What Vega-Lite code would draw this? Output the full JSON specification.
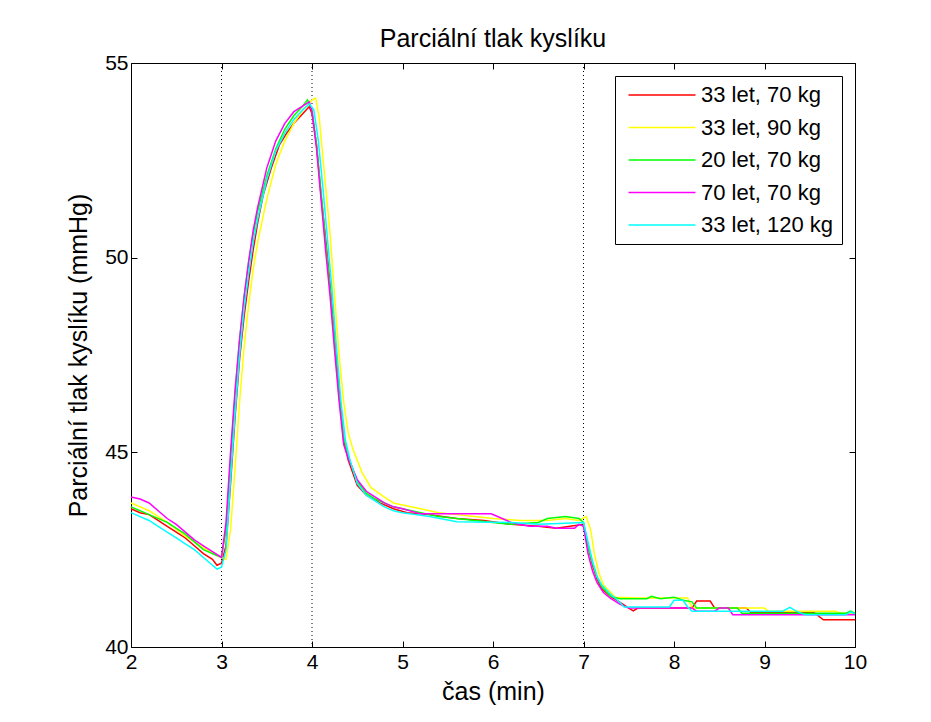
{
  "$schema": "https://vega.github.io/schema/vega-lite/v6.json",
  "width": 724,
  "height": 584,
  "autosize": {"type": "none"},
  "padding": {"left": 131, "top": 63, "right": 76, "bottom": 75},
  "background": "white",
  "config": {
    "font": "Liberation Sans",
    "view": {"stroke": "black", "strokeWidth": 1},
    "axis": {
      "domain": false, "grid": false, "tickColor": "black", "tickWidth": 1, "tickSize": -6,
      "labelColor": "black", "labelFont": "Liberation Sans", "labelFontSize": 21,
      "titleFont": "Liberation Sans", "titleFontSize": 25, "titleFontWeight": "normal", "titleColor": "black"
    },
    "legend": {
      "labelFont": "Liberation Sans", "labelFontSize": 22, "labelColor": "black"
    }
  },
  "title": {"text": "Parciální tlak kyslíku", "fontSize": 25, "fontWeight": "normal", "color": "black", "font": "Liberation Sans", "anchor": "middle", "baseline": "alphabetic", "offset": -20},
  "datasets": {
    "vlines": [{"t": 3}, {"t": 4}, {"t": 7}]
  },
  "data": {"values": [
    {"s":"33 let, 70 kg","t":2.0,"v":43.55},{"s":"33 let, 70 kg","t":2.1,"v":43.45},{"s":"33 let, 70 kg","t":2.2,"v":43.4},{"s":"33 let, 70 kg","t":2.3,"v":43.25},{"s":"33 let, 70 kg","t":2.4,"v":43.1},{"s":"33 let, 70 kg","t":2.5,"v":42.95},{"s":"33 let, 70 kg","t":2.6,"v":42.8},{"s":"33 let, 70 kg","t":2.7,"v":42.6},{"s":"33 let, 70 kg","t":2.8,"v":42.4},{"s":"33 let, 70 kg","t":2.9,"v":42.25},{"s":"33 let, 70 kg","t":2.95,"v":42.1},{"s":"33 let, 70 kg","t":3.0,"v":42.15},{"s":"33 let, 70 kg","t":3.05,"v":42.6},{"s":"33 let, 70 kg","t":3.1,"v":44.2},{"s":"33 let, 70 kg","t":3.15,"v":45.9},{"s":"33 let, 70 kg","t":3.2,"v":47.4},{"s":"33 let, 70 kg","t":3.25,"v":48.5},{"s":"33 let, 70 kg","t":3.3,"v":49.4},{"s":"33 let, 70 kg","t":3.35,"v":50.2},{"s":"33 let, 70 kg","t":3.4,"v":50.9},{"s":"33 let, 70 kg","t":3.46,"v":51.6},{"s":"33 let, 70 kg","t":3.55,"v":52.3},{"s":"33 let, 70 kg","t":3.64,"v":52.9},{"s":"33 let, 70 kg","t":3.72,"v":53.2},{"s":"33 let, 70 kg","t":3.8,"v":53.45},{"s":"33 let, 70 kg","t":3.9,"v":53.7},{"s":"33 let, 70 kg","t":3.97,"v":53.88},{"s":"33 let, 70 kg","t":4.0,"v":53.7},{"s":"33 let, 70 kg","t":4.05,"v":52.9},{"s":"33 let, 70 kg","t":4.1,"v":51.6},{"s":"33 let, 70 kg","t":4.15,"v":50.5},{"s":"33 let, 70 kg","t":4.2,"v":49.3},{"s":"33 let, 70 kg","t":4.25,"v":47.9},{"s":"33 let, 70 kg","t":4.3,"v":46.6},{"s":"33 let, 70 kg","t":4.35,"v":45.3},{"s":"33 let, 70 kg","t":4.4,"v":44.8},{"s":"33 let, 70 kg","t":4.5,"v":44.15},{"s":"33 let, 70 kg","t":4.6,"v":43.9},{"s":"33 let, 70 kg","t":4.75,"v":43.7},{"s":"33 let, 70 kg","t":4.9,"v":43.55},{"s":"33 let, 70 kg","t":5.05,"v":43.45},{"s":"33 let, 70 kg","t":5.3,"v":43.4},{"s":"33 let, 70 kg","t":5.6,"v":43.3},{"s":"33 let, 70 kg","t":5.9,"v":43.25},{"s":"33 let, 70 kg","t":6.2,"v":43.15},{"s":"33 let, 70 kg","t":6.5,"v":43.1},{"s":"33 let, 70 kg","t":6.7,"v":43.05},{"s":"33 let, 70 kg","t":6.85,"v":43.1},{"s":"33 let, 70 kg","t":7.0,"v":43.15},{"s":"33 let, 70 kg","t":7.05,"v":42.6},{"s":"33 let, 70 kg","t":7.1,"v":42.1},{"s":"33 let, 70 kg","t":7.15,"v":41.75},{"s":"33 let, 70 kg","t":7.2,"v":41.5},{"s":"33 let, 70 kg","t":7.3,"v":41.3},{"s":"33 let, 70 kg","t":7.4,"v":41.15},{"s":"33 let, 70 kg","t":7.5,"v":41.0},{"s":"33 let, 70 kg","t":7.55,"v":40.93},{"s":"33 let, 70 kg","t":7.6,"v":41.0},{"s":"33 let, 70 kg","t":8.2,"v":41.0},{"s":"33 let, 70 kg","t":8.25,"v":41.18},{"s":"33 let, 70 kg","t":8.4,"v":41.18},{"s":"33 let, 70 kg","t":8.45,"v":41.0},{"s":"33 let, 70 kg","t":8.8,"v":41.0},{"s":"33 let, 70 kg","t":8.85,"v":40.88},{"s":"33 let, 70 kg","t":9.55,"v":40.88},{"s":"33 let, 70 kg","t":9.65,"v":40.7},{"s":"33 let, 70 kg","t":10.0,"v":40.7},

    {"s":"33 let, 90 kg","t":2.0,"v":43.7},{"s":"33 let, 90 kg","t":2.2,"v":43.5},{"s":"33 let, 90 kg","t":2.4,"v":43.2},{"s":"33 let, 90 kg","t":2.6,"v":42.85},{"s":"33 let, 90 kg","t":2.8,"v":42.55},{"s":"33 let, 90 kg","t":2.95,"v":42.35},{"s":"33 let, 90 kg","t":3.0,"v":42.3},{"s":"33 let, 90 kg","t":3.05,"v":42.25},{"s":"33 let, 90 kg","t":3.1,"v":43.0},{"s":"33 let, 90 kg","t":3.15,"v":44.6},{"s":"33 let, 90 kg","t":3.2,"v":46.3},{"s":"33 let, 90 kg","t":3.25,"v":47.7},{"s":"33 let, 90 kg","t":3.3,"v":48.8},{"s":"33 let, 90 kg","t":3.35,"v":49.7},{"s":"33 let, 90 kg","t":3.4,"v":50.4},{"s":"33 let, 90 kg","t":3.5,"v":51.5},{"s":"33 let, 90 kg","t":3.6,"v":52.4},{"s":"33 let, 90 kg","t":3.7,"v":53.0},{"s":"33 let, 90 kg","t":3.8,"v":53.45},{"s":"33 let, 90 kg","t":3.9,"v":53.8},{"s":"33 let, 90 kg","t":4.0,"v":54.05},{"s":"33 let, 90 kg","t":4.04,"v":54.1},{"s":"33 let, 90 kg","t":4.08,"v":53.6},{"s":"33 let, 90 kg","t":4.12,"v":52.6},{"s":"33 let, 90 kg","t":4.2,"v":50.6},{"s":"33 let, 90 kg","t":4.25,"v":49.0},{"s":"33 let, 90 kg","t":4.3,"v":47.5},{"s":"33 let, 90 kg","t":4.35,"v":46.3},{"s":"33 let, 90 kg","t":4.4,"v":45.5},{"s":"33 let, 90 kg","t":4.45,"v":45.1},{"s":"33 let, 90 kg","t":4.55,"v":44.5},{"s":"33 let, 90 kg","t":4.65,"v":44.1},{"s":"33 let, 90 kg","t":4.8,"v":43.85},{"s":"33 let, 90 kg","t":4.9,"v":43.7},{"s":"33 let, 90 kg","t":5.0,"v":43.65},{"s":"33 let, 90 kg","t":5.2,"v":43.55},{"s":"33 let, 90 kg","t":5.4,"v":43.45},{"s":"33 let, 90 kg","t":5.6,"v":43.4},{"s":"33 let, 90 kg","t":5.8,"v":43.35},{"s":"33 let, 90 kg","t":6.0,"v":43.3},{"s":"33 let, 90 kg","t":6.3,"v":43.25},{"s":"33 let, 90 kg","t":6.6,"v":43.25},{"s":"33 let, 90 kg","t":6.8,"v":43.3},{"s":"33 let, 90 kg","t":6.95,"v":43.25},{"s":"33 let, 90 kg","t":7.03,"v":43.35},{"s":"33 let, 90 kg","t":7.08,"v":43.0},{"s":"33 let, 90 kg","t":7.12,"v":42.4},{"s":"33 let, 90 kg","t":7.17,"v":41.9},{"s":"33 let, 90 kg","t":7.22,"v":41.6},{"s":"33 let, 90 kg","t":7.3,"v":41.4},{"s":"33 let, 90 kg","t":7.35,"v":41.28},{"s":"33 let, 90 kg","t":7.6,"v":41.26},{"s":"33 let, 90 kg","t":8.15,"v":41.26},{"s":"33 let, 90 kg","t":8.2,"v":41.0},{"s":"33 let, 90 kg","t":9.0,"v":41.0},{"s":"33 let, 90 kg","t":9.04,"v":40.92},{"s":"33 let, 90 kg","t":9.78,"v":40.92},{"s":"33 let, 90 kg","t":9.85,"v":40.87},{"s":"33 let, 90 kg","t":10.0,"v":40.87},

    {"s":"20 let, 70 kg","t":2.0,"v":43.6},{"s":"20 let, 70 kg","t":2.2,"v":43.4},{"s":"20 let, 70 kg","t":2.4,"v":43.2},{"s":"20 let, 70 kg","t":2.6,"v":42.9},{"s":"20 let, 70 kg","t":2.8,"v":42.5},{"s":"20 let, 70 kg","t":2.95,"v":42.35},{"s":"20 let, 70 kg","t":3.0,"v":42.3},{"s":"20 let, 70 kg","t":3.05,"v":43.0},{"s":"20 let, 70 kg","t":3.1,"v":44.8},{"s":"20 let, 70 kg","t":3.15,"v":46.5},{"s":"20 let, 70 kg","t":3.2,"v":47.9},{"s":"20 let, 70 kg","t":3.25,"v":49.0},{"s":"20 let, 70 kg","t":3.3,"v":49.9},{"s":"20 let, 70 kg","t":3.35,"v":50.6},{"s":"20 let, 70 kg","t":3.4,"v":51.2},{"s":"20 let, 70 kg","t":3.5,"v":52.1},{"s":"20 let, 70 kg","t":3.6,"v":52.8},{"s":"20 let, 70 kg","t":3.7,"v":53.3},{"s":"20 let, 70 kg","t":3.8,"v":53.65},{"s":"20 let, 70 kg","t":3.9,"v":53.9},{"s":"20 let, 70 kg","t":3.95,"v":54.05},{"s":"20 let, 70 kg","t":4.0,"v":53.8},{"s":"20 let, 70 kg","t":4.05,"v":52.9},{"s":"20 let, 70 kg","t":4.1,"v":51.7},{"s":"20 let, 70 kg","t":4.15,"v":50.4},{"s":"20 let, 70 kg","t":4.2,"v":49.2},{"s":"20 let, 70 kg","t":4.25,"v":47.8},{"s":"20 let, 70 kg","t":4.3,"v":46.4},{"s":"20 let, 70 kg","t":4.35,"v":45.4},{"s":"20 let, 70 kg","t":4.4,"v":44.9},{"s":"20 let, 70 kg","t":4.5,"v":44.25},{"s":"20 let, 70 kg","t":4.6,"v":43.95},{"s":"20 let, 70 kg","t":4.7,"v":43.8},{"s":"20 let, 70 kg","t":4.8,"v":43.7},{"s":"20 let, 70 kg","t":4.9,"v":43.6},{"s":"20 let, 70 kg","t":5.0,"v":43.55},{"s":"20 let, 70 kg","t":5.2,"v":43.45},{"s":"20 let, 70 kg","t":5.4,"v":43.35},{"s":"20 let, 70 kg","t":5.6,"v":43.3},{"s":"20 let, 70 kg","t":5.8,"v":43.25},{"s":"20 let, 70 kg","t":6.0,"v":43.2},{"s":"20 let, 70 kg","t":6.2,"v":43.15},{"s":"20 let, 70 kg","t":6.5,"v":43.2},{"s":"20 let, 70 kg","t":6.6,"v":43.3},{"s":"20 let, 70 kg","t":6.8,"v":43.35},{"s":"20 let, 70 kg","t":6.95,"v":43.3},{"s":"20 let, 70 kg","t":7.0,"v":43.2},{"s":"20 let, 70 kg","t":7.05,"v":42.6},{"s":"20 let, 70 kg","t":7.1,"v":42.15},{"s":"20 let, 70 kg","t":7.15,"v":41.8},{"s":"20 let, 70 kg","t":7.2,"v":41.55},{"s":"20 let, 70 kg","t":7.3,"v":41.3},{"s":"20 let, 70 kg","t":7.4,"v":41.24},{"s":"20 let, 70 kg","t":7.7,"v":41.24},{"s":"20 let, 70 kg","t":7.75,"v":41.3},{"s":"20 let, 70 kg","t":7.85,"v":41.24},{"s":"20 let, 70 kg","t":8.0,"v":41.28},{"s":"20 let, 70 kg","t":8.1,"v":41.2},{"s":"20 let, 70 kg","t":8.2,"v":41.16},{"s":"20 let, 70 kg","t":8.25,"v":41.0},{"s":"20 let, 70 kg","t":8.7,"v":41.0},{"s":"20 let, 70 kg","t":8.75,"v":40.87},{"s":"20 let, 70 kg","t":9.9,"v":40.87},{"s":"20 let, 70 kg","t":9.95,"v":40.92},{"s":"20 let, 70 kg","t":10.0,"v":40.87},

    {"s":"70 let, 70 kg","t":2.0,"v":43.85},{"s":"70 let, 70 kg","t":2.1,"v":43.8},{"s":"70 let, 70 kg","t":2.2,"v":43.7},{"s":"70 let, 70 kg","t":2.3,"v":43.5},{"s":"70 let, 70 kg","t":2.4,"v":43.3},{"s":"70 let, 70 kg","t":2.5,"v":43.15},{"s":"70 let, 70 kg","t":2.6,"v":42.95},{"s":"70 let, 70 kg","t":2.7,"v":42.75},{"s":"70 let, 70 kg","t":2.8,"v":42.6},{"s":"70 let, 70 kg","t":2.9,"v":42.45},{"s":"70 let, 70 kg","t":3.0,"v":42.3},{"s":"70 let, 70 kg","t":3.05,"v":43.2},{"s":"70 let, 70 kg","t":3.1,"v":45.0},{"s":"70 let, 70 kg","t":3.15,"v":46.6},{"s":"70 let, 70 kg","t":3.2,"v":47.9},{"s":"70 let, 70 kg","t":3.25,"v":49.0},{"s":"70 let, 70 kg","t":3.3,"v":49.9},{"s":"70 let, 70 kg","t":3.35,"v":50.7},{"s":"70 let, 70 kg","t":3.4,"v":51.3},{"s":"70 let, 70 kg","t":3.5,"v":52.3},{"s":"70 let, 70 kg","t":3.6,"v":53.0},{"s":"70 let, 70 kg","t":3.7,"v":53.45},{"s":"70 let, 70 kg","t":3.8,"v":53.75},{"s":"70 let, 70 kg","t":3.9,"v":53.9},{"s":"70 let, 70 kg","t":3.97,"v":54.0},{"s":"70 let, 70 kg","t":4.0,"v":53.75},{"s":"70 let, 70 kg","t":4.05,"v":52.8},{"s":"70 let, 70 kg","t":4.1,"v":51.5},{"s":"70 let, 70 kg","t":4.15,"v":50.2},{"s":"70 let, 70 kg","t":4.2,"v":49.0},{"s":"70 let, 70 kg","t":4.25,"v":47.6},{"s":"70 let, 70 kg","t":4.3,"v":46.3},{"s":"70 let, 70 kg","t":4.35,"v":45.2},{"s":"70 let, 70 kg","t":4.4,"v":44.85},{"s":"70 let, 70 kg","t":4.5,"v":44.3},{"s":"70 let, 70 kg","t":4.6,"v":44.0},{"s":"70 let, 70 kg","t":4.7,"v":43.85},{"s":"70 let, 70 kg","t":4.8,"v":43.7},{"s":"70 let, 70 kg","t":4.9,"v":43.6},{"s":"70 let, 70 kg","t":5.0,"v":43.55},{"s":"70 let, 70 kg","t":5.2,"v":43.42},{"s":"70 let, 70 kg","t":5.98,"v":43.42},{"s":"70 let, 70 kg","t":6.2,"v":43.2},{"s":"70 let, 70 kg","t":6.4,"v":43.1},{"s":"70 let, 70 kg","t":6.6,"v":43.1},{"s":"70 let, 70 kg","t":6.7,"v":43.05},{"s":"70 let, 70 kg","t":6.9,"v":43.05},{"s":"70 let, 70 kg","t":6.95,"v":43.15},{"s":"70 let, 70 kg","t":7.0,"v":43.1},{"s":"70 let, 70 kg","t":7.05,"v":42.4},{"s":"70 let, 70 kg","t":7.1,"v":41.95},{"s":"70 let, 70 kg","t":7.15,"v":41.65},{"s":"70 let, 70 kg","t":7.22,"v":41.4},{"s":"70 let, 70 kg","t":7.3,"v":41.25},{"s":"70 let, 70 kg","t":7.4,"v":41.1},{"s":"70 let, 70 kg","t":7.5,"v":41.0},{"s":"70 let, 70 kg","t":8.2,"v":41.0},{"s":"70 let, 70 kg","t":8.25,"v":40.92},{"s":"70 let, 70 kg","t":8.45,"v":40.92},{"s":"70 let, 70 kg","t":8.5,"v":41.0},{"s":"70 let, 70 kg","t":8.6,"v":41.0},{"s":"70 let, 70 kg","t":8.65,"v":40.83},{"s":"70 let, 70 kg","t":10.0,"v":40.83},

    {"s":"33 let, 120 kg","t":2.0,"v":43.45},{"s":"33 let, 120 kg","t":2.1,"v":43.35},{"s":"33 let, 120 kg","t":2.2,"v":43.25},{"s":"33 let, 120 kg","t":2.3,"v":43.1},{"s":"33 let, 120 kg","t":2.4,"v":42.95},{"s":"33 let, 120 kg","t":2.5,"v":42.8},{"s":"33 let, 120 kg","t":2.6,"v":42.65},{"s":"33 let, 120 kg","t":2.7,"v":42.5},{"s":"33 let, 120 kg","t":2.8,"v":42.3},{"s":"33 let, 120 kg","t":2.9,"v":42.1},{"s":"33 let, 120 kg","t":2.95,"v":42.0},{"s":"33 let, 120 kg","t":3.0,"v":42.05},{"s":"33 let, 120 kg","t":3.05,"v":42.5},{"s":"33 let, 120 kg","t":3.1,"v":44.3},{"s":"33 let, 120 kg","t":3.15,"v":46.0},{"s":"33 let, 120 kg","t":3.2,"v":47.5},{"s":"33 let, 120 kg","t":3.25,"v":48.7},{"s":"33 let, 120 kg","t":3.3,"v":49.6},{"s":"33 let, 120 kg","t":3.35,"v":50.4},{"s":"33 let, 120 kg","t":3.4,"v":51.0},{"s":"33 let, 120 kg","t":3.5,"v":52.0},{"s":"33 let, 120 kg","t":3.6,"v":52.75},{"s":"33 let, 120 kg","t":3.7,"v":53.2},{"s":"33 let, 120 kg","t":3.8,"v":53.55},{"s":"33 let, 120 kg","t":3.9,"v":53.8},{"s":"33 let, 120 kg","t":3.97,"v":53.95},{"s":"33 let, 120 kg","t":4.02,"v":53.8},{"s":"33 let, 120 kg","t":4.07,"v":53.0},{"s":"33 let, 120 kg","t":4.12,"v":51.8},{"s":"33 let, 120 kg","t":4.17,"v":50.5},{"s":"33 let, 120 kg","t":4.22,"v":49.2},{"s":"33 let, 120 kg","t":4.27,"v":47.7},{"s":"33 let, 120 kg","t":4.32,"v":46.3},{"s":"33 let, 120 kg","t":4.37,"v":45.3},{"s":"33 let, 120 kg","t":4.42,"v":44.8},{"s":"33 let, 120 kg","t":4.5,"v":44.2},{"s":"33 let, 120 kg","t":4.6,"v":43.9},{"s":"33 let, 120 kg","t":4.7,"v":43.75},{"s":"33 let, 120 kg","t":4.8,"v":43.6},{"s":"33 let, 120 kg","t":4.9,"v":43.5},{"s":"33 let, 120 kg","t":5.0,"v":43.45},{"s":"33 let, 120 kg","t":5.3,"v":43.35},{"s":"33 let, 120 kg","t":5.6,"v":43.22},{"s":"33 let, 120 kg","t":6.2,"v":43.2},{"s":"33 let, 120 kg","t":6.5,"v":43.15},{"s":"33 let, 120 kg","t":6.8,"v":43.18},{"s":"33 let, 120 kg","t":7.0,"v":43.2},{"s":"33 let, 120 kg","t":7.05,"v":42.7},{"s":"33 let, 120 kg","t":7.1,"v":42.2},{"s":"33 let, 120 kg","t":7.15,"v":41.8},{"s":"33 let, 120 kg","t":7.2,"v":41.6},{"s":"33 let, 120 kg","t":7.3,"v":41.35},{"s":"33 let, 120 kg","t":7.4,"v":41.15},{"s":"33 let, 120 kg","t":7.45,"v":41.03},{"s":"33 let, 120 kg","t":7.95,"v":41.03},{"s":"33 let, 120 kg","t":8.0,"v":41.2},{"s":"33 let, 120 kg","t":8.1,"v":41.2},{"s":"33 let, 120 kg","t":8.15,"v":41.03},{"s":"33 let, 120 kg","t":8.2,"v":40.92},{"s":"33 let, 120 kg","t":9.2,"v":40.92},{"s":"33 let, 120 kg","t":9.28,"v":41.02},{"s":"33 let, 120 kg","t":9.35,"v":40.92},{"s":"33 let, 120 kg","t":9.45,"v":40.83},{"s":"33 let, 120 kg","t":9.9,"v":40.83},{"s":"33 let, 120 kg","t":9.95,"v":40.9},{"s":"33 let, 120 kg","t":10.0,"v":40.85}
  ]},
  "resolve": {"axis": {"x": "independent", "y": "independent"}},
  "layer": [
    {
      "data": {"name": "vlines"},
      "mark": {"type": "rule", "color": "black", "strokeWidth": 1, "strokeDash": [1, 3]},
      "encoding": {
        "x": {"field": "t", "type": "quantitative", "scale": {"domain": [2, 10], "nice": false, "zero": false},
              "axis": {"orient": "top", "labels": false, "title": null, "values": [2,3,4,5,6,7,8,9,10]}}
      }
    },
    {
      "mark": {"type": "line", "strokeWidth": 1.5},
      "encoding": {
        "x": {"field": "t", "type": "quantitative", "scale": {"domain": [2, 10], "nice": false, "zero": false},
              "axis": {"orient": "bottom", "title": "čas (min)", "values": [2,3,4,5,6,7,8,9,10], "labelPadding": 10, "titleBaseline": "middle", "titleY": 44, "labelFlush": false}},
        "y": {"field": "v", "type": "quantitative", "scale": {"domain": [40, 55], "nice": false, "zero": false},
              "axis": {"orient": "left", "title": "Parciální tlak kyslíku (mmHg)", "values": [40, 45, 50, 55], "labelPadding": 9, "titleBaseline": "middle", "titleX": -53, "titleY": 292}},
        "color": {"field": "s", "type": "nominal",
          "scale": {"domain": ["33 let, 70 kg", "33 let, 90 kg", "20 let, 70 kg", "70 let, 70 kg", "33 let, 120 kg"],
                    "range": ["#ff0000", "#ffff00", "#00ff00", "#ff00ff", "#00ffff"]},
          "legend": {"orient": "none", "legendX": 484, "legendY": 13, "title": null,
                     "strokeColor": "black", "fillColor": "white", "padding": 8,
                     "symbolType": "M-3.35,0H3.35", "symbolSize": 400, "symbolStrokeWidth": 1.5,
                     "symbolOffset": 28, "labelOffset": 28, "rowPadding": 10.5}}
      }
    },
    {
      "mark": {"type": "line", "strokeOpacity": 0},
      "encoding": {
        "x": {"field": "t", "type": "quantitative", "axis": null},
        "y": {"field": "v", "type": "quantitative", "scale": {"domain": [40, 55], "nice": false, "zero": false},
              "axis": {"orient": "right", "labels": false, "title": null, "values": [40, 45, 50, 55]}}
      }
    }
  ]
}
